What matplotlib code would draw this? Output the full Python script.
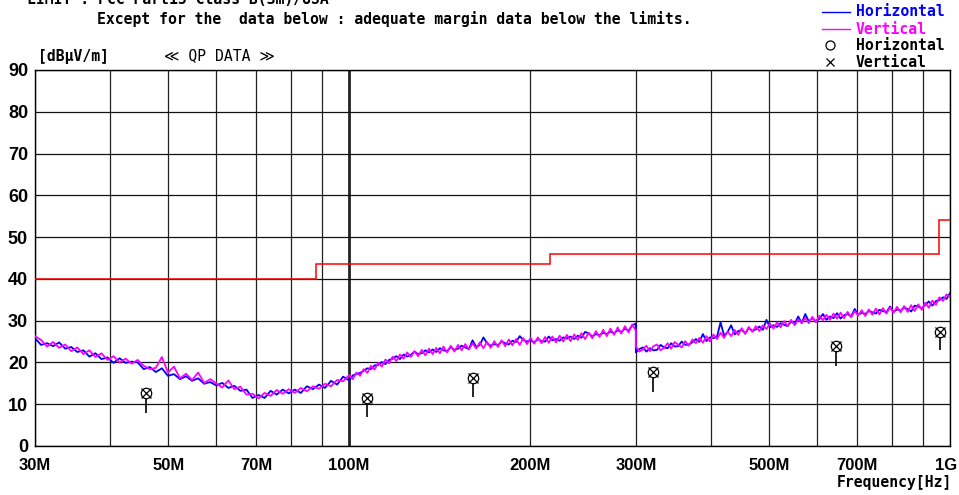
import numpy as np
import matplotlib
matplotlib.use("Agg")
import matplotlib.pyplot as plt
from matplotlib.lines import Line2D
from matplotlib.ticker import NullFormatter

# ---------------- data ----------------
# limit line (FCC Part15 Class B, 3 m)
limit_edges_mhz = [30, 88, 216, 960, 1000]
limit_levels = [40.0, 43.5, 46.0, 54.0]

# sweep points: 30-100 MHz, 100-300 MHz, 300-1000 MHz
freq_a1 = np.geomspace(30, 100, 53)
freq_a2 = np.geomspace(100, 300, 80)
freq_b = np.geomspace(300, 1000, 90)

horiz_a1 = [25.8, 24.2, 24.6, 23.9, 24.8, 23.3, 23.7, 22.5, 22.9, 21.4,
            22.2, 20.8, 21.2, 19.9, 21.0, 19.9, 20.2, 20.0, 18.4, 18.9,
            17.7, 18.6, 16.8, 17.2, 16.0, 16.7, 15.6, 16.2, 14.9, 15.3,
            14.5, 15.1, 13.9, 14.4, 13.2, 13.5, 11.5, 12.2, 11.5, 13.2,
            12.3, 13.5, 12.6, 13.5, 12.7, 14.3, 13.6, 14.7, 13.9, 15.6,
            14.7, 16.6, 15.7]
vert_a1 = [26.3, 25.4, 23.8, 24.9, 23.5, 24.3, 22.7, 23.6, 22.0, 22.9,
           21.3, 22.2, 20.6, 21.5, 20.0, 20.9, 19.7, 20.6, 19.2, 18.4,
           18.7, 21.3, 17.6, 19.0, 16.2, 17.3, 15.8, 17.6, 15.1, 16.0,
           15.0, 14.0, 15.7, 13.6, 14.2, 12.3, 12.5, 11.4, 12.7, 12.0,
           13.4, 12.5, 13.6, 12.7, 13.9, 13.1, 14.3, 13.7, 14.9, 14.3,
           15.8, 15.5, 17.0]
horiz_a2 = [15.8, 16.9, 17.2, 17.5, 18.0, 18.6, 18.4, 19.3, 19.4, 20.1,
            19.6, 20.6, 20.9, 21.5, 20.8, 21.9, 21.4, 21.8, 22.6, 22.0,
            22.2, 22.9, 22.4, 23.1, 22.5, 23.4, 22.9, 22.7, 23.7, 23.0,
            23.3, 24.0, 23.6, 23.2, 25.3, 23.7, 24.2, 26.0, 24.6, 24.0,
            24.4, 24.1, 25.0, 24.6, 24.3, 25.2, 24.9, 26.3, 25.4, 25.0,
            25.3, 24.8, 25.6, 25.1, 25.0, 26.2, 25.3, 25.6, 25.2, 26.0,
            25.7, 26.2, 25.6, 26.4, 25.9, 27.3, 27.0, 26.2, 26.8, 26.5,
            27.1, 26.8, 27.4, 27.0, 27.7, 27.3, 28.1, 27.6, 28.9, 29.3]
vert_a2 = [16.9, 16.0, 17.6, 16.8, 18.4, 17.5, 19.2, 18.3, 19.9, 19.0,
           20.7, 19.8, 21.4, 20.3, 21.9, 20.9, 22.4, 21.3, 22.7, 21.5,
           23.0, 21.7, 23.3, 22.0, 23.5, 22.2, 23.8, 22.4, 24.0, 22.6,
           24.2, 22.9, 24.4, 23.1, 24.6, 23.3, 24.8, 23.4, 24.9, 23.5,
           25.1, 23.7, 25.3, 23.9, 25.5, 24.1, 25.6, 24.2, 25.8, 24.4,
           25.9, 24.5, 26.0, 24.6, 26.1, 24.7, 26.2, 24.8, 26.4, 25.0,
           26.6, 25.1, 26.7, 25.4, 27.0, 25.6, 27.1, 25.8, 27.5, 26.1,
           27.8, 26.3, 28.1, 26.6, 28.4, 26.9, 28.7, 27.2, 29.1, 27.6]
horiz_b = [22.4, 23.2, 23.6, 22.6, 23.4, 22.9, 23.0, 24.2, 23.6, 23.4,
           24.6, 23.8, 23.9, 25.0, 24.2, 24.3, 24.8, 25.6, 24.9, 26.8,
           25.1, 26.0, 25.8, 26.2, 29.6, 26.4, 27.3, 28.9, 26.7, 27.5,
           27.8, 27.0, 28.2, 27.6, 27.9, 28.6, 27.8, 30.2, 28.4, 28.9,
           28.5, 29.4, 29.0, 28.7, 29.8, 29.3, 31.0, 29.4, 31.6, 29.8,
           30.6, 29.9, 30.4, 31.6, 30.2, 31.0, 30.6, 31.8, 30.5, 31.3,
           31.6, 31.0, 32.8, 31.4, 31.9, 31.6, 32.3, 32.0, 31.7, 32.6,
           32.3, 32.0, 33.4, 32.1, 32.7, 32.4, 33.1, 32.8, 32.2, 33.6,
           33.4, 32.9, 33.8, 34.6, 33.6, 34.7, 34.9, 35.6, 35.2, 36.6]
vert_b = [23.8, 22.6, 23.1, 24.0, 22.7, 23.9, 24.3, 22.9, 23.5, 24.6,
          23.3, 24.9, 24.2, 23.6, 25.1, 24.0, 25.5, 24.6, 25.9, 24.7,
          26.3, 25.0, 26.7, 25.6, 27.1, 25.9, 27.4, 26.3, 27.8, 26.6,
          28.2, 26.8, 28.5, 27.3, 28.7, 27.5, 28.9, 28.0, 29.3, 28.1,
          29.6, 28.4, 29.9, 28.7, 30.2, 28.9, 30.3, 29.5, 30.6, 29.4,
          30.9, 29.6, 31.2, 30.1, 31.4, 30.2, 31.7, 30.5, 31.9, 30.6,
          32.1, 30.8, 32.3, 31.2, 32.5, 31.1, 32.7, 31.4, 32.9, 31.5,
          33.0, 31.7, 33.2, 31.9, 33.3, 32.0, 33.5, 32.1, 33.7, 32.3,
          33.9, 32.6, 34.3, 33.1, 34.8, 33.8, 35.6, 34.7, 36.3, 35.6]

# QP data points
qp_freq_mhz = [45.9, 107.0, 160.8, 320.0, 646.0, 963.0]
qp_horiz = [12.7, 11.4, 16.3, 17.7, 24.0, 27.4]
qp_vert = [12.7, 11.4, 16.3, 17.7, 24.0, 27.4]
qp_stem_bottom = [7.9, 6.9, 11.7, 12.9, 19.1, 23.0]

x_major = [30, 50, 70, 100, 200, 300, 500, 700, 1000]
x_major_labels = ["30M", "50M", "70M", "100M", "200M", "300M", "500M", "700M", ""]
x_last_label = "1G"
x_minor = [40, 60, 80, 90, 400, 600, 800, 900]
y_ticks = [0, 10, 20, 30, 40, 50, 60, 70, 80, 90]

# ---------------- figure ----------------
W, H = 959, 495
fig = plt.figure(figsize=(W / 100, H / 100), dpi=100)
ax = fig.add_axes([35 / W, 1 - 446 / H, (950 - 35) / W, (446 - 70) / H])

def fx(x):
    return x / W

def fy(y):
    return 1 - y / H

mono = ["DejaVu Sans Mono", "DejaVu Sans"]
boldsans = ["Liberation Sans", "DejaVu Sans"]

ax.set_xscale("log")
ax.set_xlim(30, 1000)
ax.set_ylim(0, 90)
ax.set_xticks(x_major)
ax.set_xticklabels(x_major_labels)
ax.set_xticks(x_minor, minor=True)
ax.xaxis.set_minor_formatter(NullFormatter())
ax.set_yticks(y_ticks)
ax.set_yticklabels([str(v) for v in y_ticks])
ax.tick_params(which="both", length=0)
ax.tick_params(axis="x", pad=8.5)
ax.tick_params(axis="y", pad=5)
for lab in ax.get_xticklabels():
    lab.set_fontfamily(boldsans)
    lab.set_fontweight("bold")
    lab.set_fontsize(12)
for lab in ax.get_yticklabels():
    lab.set_fontfamily(boldsans)
    lab.set_fontweight("bold")
    lab.set_fontsize(13)
fig.text(fx(946), fy(465), x_last_label, family=boldsans, weight="bold", fontsize=12,
         ha="center", va="center")

ax.grid(True, which="both", axis="x", color="#222222", lw=0.9)
ax.grid(True, which="major", axis="y", color="#111111", lw=0.9)
ax.axvline(100, color="black", lw=1.8, zorder=1.5)
for s in ax.spines.values():
    s.set_color("black")
    s.set_linewidth(1.0)

# limit line
ax.stairs(limit_levels, limit_edges_mhz, baseline=None, color="#ff0000", lw=1.1, zorder=3)

# traces
freq_all = np.concatenate([freq_a1, freq_a2, freq_b])
ax.plot(freq_all, horiz_a1 + horiz_a2 + horiz_b, color="#0000ff", lw=1.3, zorder=4)
ax.plot(freq_all, vert_a1 + vert_a2 + vert_b, color="#ff00ff", lw=1.3, zorder=5)

# QP data
ax.vlines(qp_freq_mhz, qp_stem_bottom, qp_horiz, colors="black", lw=1.2, zorder=6)
ax.plot(qp_freq_mhz, qp_horiz, "o", mfc="white", mec="black", ms=7.5, mew=0.9, zorder=7)
ax.plot(qp_freq_mhz, qp_vert, "x", color="black", ms=7, mew=0.9, zorder=8)

# header texts
fig.text(fx(27), fy(0), "LIMIT : FCC Part15 Class B(3m)/USA", family=mono, weight="bold",
         fontsize=10.6, ha="left", va="center")
fig.text(fx(97), fy(19), "Except for the  data below : adequate margin data below the limits.",
         family=mono, weight="bold", fontsize=10.6, ha="left", va="center")
fig.text(fx(38), fy(56), "[dBμV/m]", family=mono, weight="bold", fontsize=10.6,
         ha="left", va="center")
fig.text(fx(219), fy(56), "≪ QP DATA ≫", family=mono, fontsize=10.6,
         ha="center", va="center")
fig.text(fx(952), fy(483), "Frequency[Hz]", family=mono, weight="bold", fontsize=10.6,
         ha="right", va="center")

# legend (top right)
fig.add_artist(Line2D([fx(822), fx(850)], [fy(12), fy(12)], color="#0000ff", lw=1.0))
fig.add_artist(Line2D([fx(822), fx(850)], [fy(29), fy(29)], color="#ff00ff", lw=1.0))
fig.add_artist(Line2D([fx(830)], [fy(45)], marker="o", mfc="none", mec="black", ms=6.5, mew=0.9, ls="none"))
fig.add_artist(Line2D([fx(830)], [fy(62)], marker="x", color="black", ms=6, mew=0.9, ls="none"))
fig.text(fx(856), fy(12), "Horizontal", family=mono, weight="bold", fontsize=10.6,
         color="#0000ff", ha="left", va="center")
fig.text(fx(856), fy(29), "Vertical", family=mono, weight="bold", fontsize=10.6,
         color="#ff00ff", ha="left", va="center")
fig.text(fx(856), fy(46), "Horizontal", family=mono, weight="bold", fontsize=10.6,
         color="black", ha="left", va="center")
fig.text(fx(856), fy(63), "Vertical", family=mono, weight="bold", fontsize=10.6,
         color="black", ha="left", va="center")

fig.savefig("out.png", dpi=100)
